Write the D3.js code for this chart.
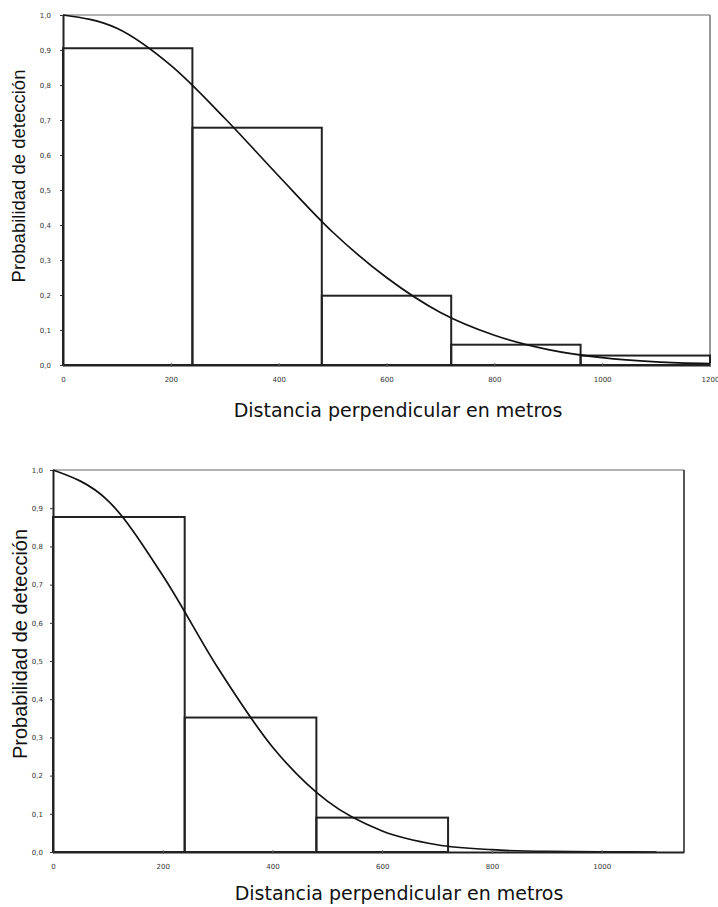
<!DOCTYPE html>
<html lang="es">
<head>
<meta charset="utf-8">
<script src="https://d3js.org/d3.v7.min.js"></script>
<style>
  body { margin: 0; background: #fff; }
  svg { display: block; }
</style>
</head>
<body>
<script>
// --- data ---
var curveDist = [0, 100, 200, 300, 400, 500, 600, 700, 800, 900, 1000, 1100, 1200];

// upper chart
var topEdges = [0, 240, 480, 720, 960, 1200];
var topBars = [0.905, 0.678, 0.198, 0.058, 0.027];
var topCurve = [1.0, 0.962, 0.856, 0.705, 0.54, 0.38, 0.25, 0.15, 0.085, 0.044, 0.021, 0.009, 0.004];
var topTicksX = [0, 200, 400, 600, 800, 1000, 1200];

// lower chart
var botEdges = [0, 240, 480, 720];
var botBars = [0.877, 0.352, 0.09];
var botCurve = [1.0, 0.92, 0.724, 0.483, 0.275, 0.133, 0.055, 0.019, 0.006, 0.0014, 0.0003, 0.0];
var botTicksX = [0, 200, 400, 600, 800, 1000];

var ticksY = d3.range(0, 11).map(function(i){ return i / 10; });
var yLabel = "Probabilidad de detección";
var xLabel = "Distancia perpendicular en metros";

var fmt = function(v){ return v.toFixed(1).replace(".", ","); };

var svg = d3.select("body").append("svg")
    .attr("width", 718)
    .attr("height", 907);

function panel(o) {
    var x = d3.scaleLinear().domain([0, o.xMax]).range([o.left, o.right]);
    var y = d3.scaleLinear().domain([0, 1]).range([o.bottom, o.top]);
    var g = svg.append("g");

    // frame: top and right
    g.append("line").attr("x1", o.left).attr("x2", o.right)
        .attr("y1", o.top).attr("y2", o.top)
        .attr("stroke", "#999").attr("stroke-width", 1.5);
    g.append("line").attr("x1", o.right).attr("x2", o.right)
        .attr("y1", o.top).attr("y2", o.bottom)
        .attr("stroke", o.rightColor).attr("stroke-width", 1.5);

    // bars
    g.selectAll("rect.bar").data(o.bars).enter().append("rect")
        .attr("class", "bar")
        .attr("x", function(d, i){ return x(o.edges[i]); })
        .attr("width", function(d, i){ return x(o.edges[i + 1]) - x(o.edges[i]); })
        .attr("y", function(d){ return y(d); })
        .attr("height", function(d){ return y(0) - y(d); })
        .attr("fill", "none")
        .attr("stroke", "#222")
        .attr("stroke-width", 2);

    // curve
    var pts = o.curve.map(function(v, i){ return [curveDist[i], v]; });
    g.append("path").datum(pts)
        .attr("fill", "none")
        .attr("stroke", "#111")
        .attr("stroke-width", 1.7)
        .attr("d", d3.line()
            .x(function(d){ return x(d[0]); })
            .y(function(d){ return y(d[1]); })
            .curve(d3.curveMonotoneX));

    // axes
    var ax = g.append("g").attr("transform", "translate(0," + o.bottom + ")")
        .call(d3.axisBottom(x).tickValues(o.ticksX).tickFormat(d3.format("d"))
            .tickSize(3).tickPadding(9).tickSizeOuter(0));
    ax.selectAll(".tick line").attr("y1", -2).attr("y2", 2).attr("stroke", "#666");
    var ay = g.append("g").attr("transform", "translate(" + o.left + ",0)")
        .call(d3.axisLeft(y).tickValues(ticksY).tickFormat(fmt)
            .tickSize(3).tickPadding(o.yPad).tickSizeOuter(0));
    [ax, ay].forEach(function(a){
        a.select(".domain").attr("stroke", "#222").attr("stroke-width", 2);
        a.selectAll("text").attr("font-family", "Verdana, 'DejaVu Sans', sans-serif")
            .attr("font-size", 7).attr("fill", "#333");
    });
    ay.selectAll(".tick line").attr("stroke", "#333");

    // axis titles
    g.append("text")
        .attr("transform", "translate(" + o.yTitleX + "," + o.yTitleY + ") rotate(-90)")
        .attr("text-anchor", "middle")
        .attr("font-family", "'Liberation Sans', Arial, sans-serif")
        .attr("font-size", o.yTitleSize)
        .attr("fill", "#111")
        .text(yLabel);
    g.append("text")
        .attr("x", o.xTitleX).attr("y", o.xTitleY)
        .attr("text-anchor", "middle")
        .attr("font-family", "'DejaVu Sans', Verdana, sans-serif")
        .attr("font-size", 19)
        .attr("fill", "#111")
        .text(xLabel);
}

panel({
    left: 63, right: 710, top: 15, bottom: 365, xMax: 1200,
    edges: topEdges, bars: topBars, curve: topCurve, ticksX: topTicksX,
    rightColor: "#777", yPad: 9,
    yTitleX: 25, yTitleY: 176, yTitleSize: 18.5, xTitleX: 398, xTitleY: 417
});

panel({
    left: 53, right: 684, top: 470, bottom: 852, xMax: 1150,
    edges: botEdges, bars: botBars, curve: botCurve, ticksX: botTicksX,
    rightColor: "#222", yPad: 7,
    yTitleX: 27, yTitleY: 644, yTitleSize: 20, xTitleX: 399, xTitleY: 900
});
</script>
</body>
</html>
